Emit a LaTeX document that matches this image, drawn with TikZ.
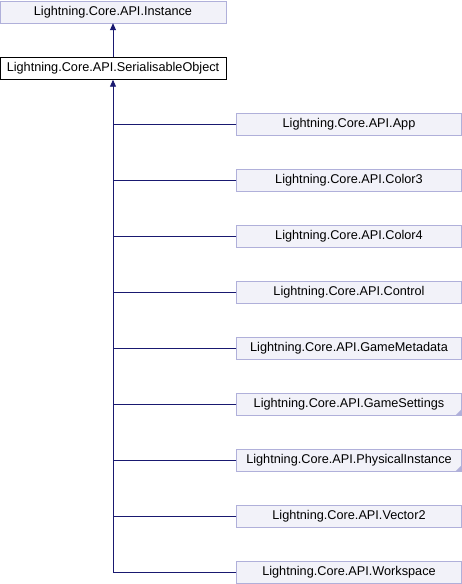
\documentclass[tikz,border=0pt]{standalone}
\usepackage{fontspec}
\setmainfont{Liberation Sans}
\usetikzlibrary{arrows.meta}
\definecolor{edgeblue}{HTML}{191970}
\definecolor{boxfill}{HTML}{F2F2F9}
\definecolor{boxline}{HTML}{B0B0DA}
\begin{document}
\begin{tikzpicture}[x=1pt, y=-1pt,
    cls/.style={draw=boxline, fill=boxfill, minimum width=225pt, minimum height=22pt, inner sep=0pt, font=\fontsize{12.7}{14}\selectfont},
    self/.style={cls, draw=black, fill=white},
    inh/.style={draw=edgeblue, line width=0.9pt},
    inharrow/.style={inh, -{Triangle[length=7pt, width=6pt]}}]
  \useasboundingbox (0, 0) rectangle (462, 584);
  \node (inst) at (113, 12) [cls, minimum width=226pt] {Lightning.Core.API.Instance};
  \node (so) at (113, 68.5) [self, minimum width=226pt] {Lightning.Core.API.SerialisableObject};
  \draw[inharrow] (so) -- (inst);
  \node (app) at (349, 124) [cls] {Lightning.Core.API.App};
  \node (c3) at (349, 180) [cls] {Lightning.Core.API.Color3};
  \node (c4) at (349, 236) [cls] {Lightning.Core.API.Color4};
  \node (ctl) at (349, 292) [cls] {Lightning.Core.API.Control};
  \node (gm) at (349, 348) [cls] {Lightning.Core.API.GameMetadata};
  \node (gs) at (349, 404) [cls] {Lightning.Core.API.GameSettings};
  \node (pi) at (349, 460) [cls] {Lightning.Core.API.PhysicalInstance};
  \node (v2) at (349, 516) [cls] {Lightning.Core.API.Vector2};
  \node (ws) at (349, 572) [cls] {Lightning.Core.API.Workspace};
  % folded corners of the truncated classes
  \fill[boxline] (gs.south east) -- ++(-6, 0) -- ++(6, -6) -- cycle;
  \fill[boxline] (pi.south east) -- ++(-6, 0) -- ++(6, -6) -- cycle;
  \draw[inharrow] (ws.west) -| (so.south);
  \foreach \n in {app, c3, c4, ctl, gm, gs, pi, v2}
    \draw[inh] (\n.west) -- (\n.west -| so.south);
\end{tikzpicture}
\end{document}
